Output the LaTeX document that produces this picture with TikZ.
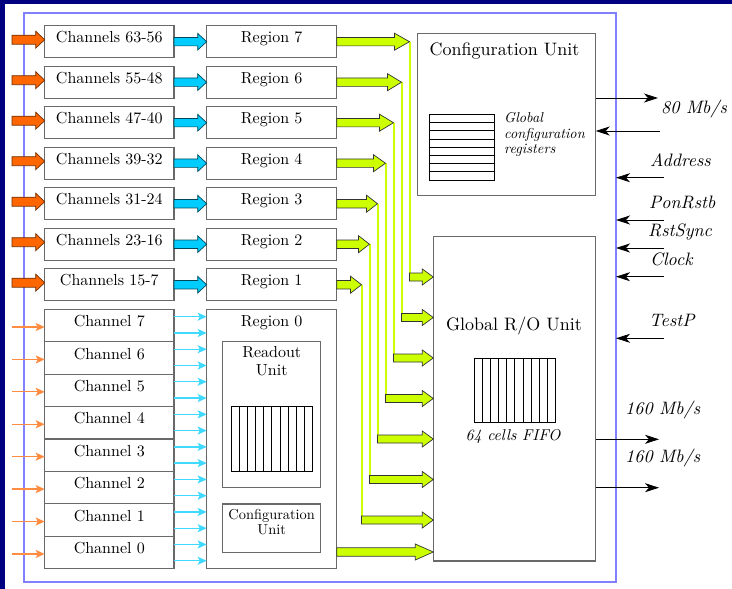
\documentclass[tikz,border=0pt]{standalone}
\usepackage{fontspec}
\setmainfont{lmroman10}[Extension=.otf, UprightFont=*-regular, ItalicFont=*-italic, BoldFont=*-bold, BoldItalicFont=*-bolditalic]
\usetikzlibrary{arrows.meta,calc}
\definecolor{navy}{RGB}{0,0,128}
\definecolor{frameblue}{RGB}{128,128,255}
\definecolor{gr}{RGB}{204,255,0}
\definecolor{orng}{RGB}{255,102,0}
\definecolor{cyn}{RGB}{0,204,255}
\definecolor{boxgray}{RGB}{105,105,105}
\newcommand\barrow[6]{%
  \draw[#1] let \p1=(#2), \p2=(#3) in
    (\x1,\y2+#4) -- (\x2-#6,\y2+#4) -- (\x2-#6,\y2+#5) -- (\x2,\y2) --
    (\x2-#6,\y2-#5) -- (\x2-#6,\y2-#4) -- (\x1,\y2-#4) -- cycle;}
\tikzset{
  box/.style={draw=boxgray, line width=1.1bp, fill=white, inner sep=0, outer sep=0, anchor=north west},
  lbl/.style={font=\fontsize{16bp}{19bp}\selectfont, anchor=base, inner sep=0},
  small/.style={font=\fontsize{14.4bp}{17bp}\selectfont, anchor=base, inner sep=0},
  big/.style={font=\fontsize{18bp}{22bp}\selectfont, anchor=base, inner sep=0},
  side/.style={font=\fontsize{18bp}{22bp}\selectfont\itshape, anchor=base west, inner sep=0},
  gcr/.style={font=\fontsize{14.3bp}{17bp}\selectfont\itshape, anchor=base west, inner sep=0},
  oblk/.style={fill=orng, draw=orng!45!black, line width=0.7bp},
  cblk/.style={fill=cyn, draw=cyn!35!black, line width=0.7bp},
  gblk/.style={fill=gr, draw=black!80, line width=0.7bp},
  gline/.style={draw=gr, line width=2bp},
  othin/.style={draw=orng!75, line width=1.3bp, -{Stealth[length=9bp,width=8bp,inset=2bp]}},
  cthin/.style={draw=cyn!75, line width=1.3bp, -{Stealth[length=9bp,width=8bp,inset=2bp]}},
  barr/.style={draw=black, line width=0.8bp, -{Stealth[length=14bp,width=9bp,inset=4bp]}},
  grid/.style={draw=black, line width=0.8bp, fill=white, inner sep=0, outer sep=0, anchor=north west},
}
\begin{document}
\begin{tikzpicture}[x=1bp,y=-1bp]
\useasboundingbox (0,0) rectangle (732,589);
\fill[white] (0,0) rectangle (732,589);
\fill[navy] (0,0) rectangle (732,4);
\fill[navy] (0,0) rectangle (5,589);

\node[draw=frameblue, line width=2bp, inner sep=0, outer sep=0, anchor=north west,
      minimum width=592bp, minimum height=569bp] (frame) at (24,13) {};

\coordinate (oL) at (12,0);

% main units on the right
\node[box, minimum width=178.4bp, minimum height=162.4bp] (cu) at (417.3,33.3) {};
\node[big] (cut) at (504.5,55.7) {Configuration Unit};
\node[grid, minimum width=65bp, minimum height=65.7bp] (reg) at (429.3,114.3) {};
\foreach \k in {1,...,7} \draw[line width=0.8bp] (reg.north west) ++(0,8.21*\k) -- ++(65,0);
\node[gcr] (g1) at (504,122.3) {Global};
\node[gcr] (g2) at (504,138.5) {configuration};
\node[gcr] (g3) at (504,153.5) {registers};

\node[box, minimum width=162.4bp, minimum height=324.3bp] (gro) at (433.3,236.7) {};
\node[big] (grot) at (514,330.7) {Global R/O Unit};
\node[grid, minimum width=81.7bp, minimum height=64.4bp] (fifo) at (474,358.3) {};
\foreach \k in {1,...,9} \draw[line width=0.8bp] (fifo.north west) ++(8.17*\k,0) -- ++(0,64.4);
\node[font=\fontsize{15.7bp}{19bp}\selectfont\itshape, anchor=base, inner sep=0] (fifot) at (513,440.7) {64 cells FIFO};

% upper channel groups and regions
\foreach \lab/\reg/\tx/\hl [count=\i from 0] in
  {63-56/7/409.5/15, 55-48/6/401.5/14, 47-40/5/393.5/14, 39-32/4/385.5/12,
   31-24/3/377.5/11, 23-16/2/369.5/11, 15-7/1/361.5/11}{
  \pgfmathsetmacro\rtop{25.7+40.5*\i}
  \pgfmathsetmacro\rmid{\rtop+16}
  \pgfmathsetmacro\rdy{277+40.5*\i}
  \node[box, minimum width=129.3bp, minimum height=32bp] (c\reg) at (44.7,\rtop) {};
  \node[lbl] (ct\reg) at ([yshift=-17bp]c\reg.north) {Channels \lab};
  \node[box, minimum width=130bp, minimum height=32bp] (r\reg) at (206.7,\rtop) {};
  \node[lbl] (rt\reg) at ([yshift=-17bp]r\reg.north) {Region \reg};
  \coordinate (t\reg) at (\tx,\rmid);
  \coordinate (d\reg) at (\tx,\rdy);
  \barrow{oblk}{oL}{[yshift=2bp]c\reg.west}{4.5bp}{8.5bp}{9bp}
  \barrow{cblk}{c\reg.east}{r\reg.west}{4.2bp}{8.3bp}{9bp}
  \draw[gline] (t\reg) -- ([yshift=-3bp]d\reg);
  \barrow{gblk}{r\reg.east}{t\reg}{4.2bp}{8.5bp}{\hl bp}
  \barrow{gblk}{d\reg}{d\reg -| gro.west}{4bp}{8bp}{11bp}
}

% region 0
\node[box, minimum width=130bp, minimum height=259.4bp] (r0) at (206.7,309.3) {};
\node[lbl] (rt0) at ([yshift=-16.7bp]r0.north) {Region 0};
\node[box, minimum width=98bp, minimum height=146bp] (ru) at (222.7,341.7) {};
\node[lbl] (rut1) at ([yshift=-15.6bp]ru.north) {Readout};
\node[lbl] (rut2) at ([yshift=-33.3bp]ru.north) {Unit};
\node[grid, minimum width=81.7bp, minimum height=65bp] (rfifo) at (231,406.7) {};
\foreach \k in {1,...,9} \draw[line width=0.8bp] (rfifo.north west) ++(8.17*\k,0) -- ++(0,65);
\node[box, minimum width=98bp, minimum height=48.7bp] (cs) at (222.7,504) {};
\node[small] (cst1) at ([yshift=-15bp]cs.north) {Configuration};
\node[small] (cst2) at ([yshift=-30.3bp]cs.north) {Unit};

% lower single channels
\foreach \n [count=\i from 0] in {7,6,5,4,3,2,1,0}{
  \pgfmathsetmacro\btop{309.3+32.42*\i}
  \pgfmathsetmacro\oy{\btop+17.7}
  \node[box, minimum width=129.3bp, minimum height=32.42bp] (b\n) at (44.7,\btop) {};
  \node[lbl] (bt\n) at ([yshift=-17.4bp]b\n.north) {Channel \n};
  \coordinate (oy\n) at (0,\oy);
  \draw[othin] (oL |- oy\n) -- (b\n.west |- oy\n);
}
\foreach \k in {0,...,15}{
  \pgfmathsetmacro\cyv{316.7+16.27*\k}
  \coordinate (cy\k) at (0,\cyv);
  \draw[cthin] (b7.east |- cy\k) -- (r0.west |- cy\k);
}
\coordinate (g0) at (0,552);
\barrow{gblk}{r0.east |- g0}{gro.west |- g0}{4.2bp}{8bp}{18bp}

% right side signals
\coordinate (o80) at (658,98);
\coordinate (i80) at (660,131);
\coordinate (iA) at (664,177.7);
\coordinate (iP) at (664,220);
\coordinate (iR) at (664,248);
\coordinate (iC) at (664,276.7);
\coordinate (iT) at (664,338.3);
\coordinate (o1) at (659,439.3);
\coordinate (o2) at (659,487.7);
\draw[barr] (cu.east |- o80) -- (o80);
\draw[barr] (i80) -- (cu.east |- i80);
\draw[barr] (iA) -- (frame.east |- iA);
\draw[barr] (iP) -- (frame.east |- iP);
\draw[barr] (iR) -- (frame.east |- iR);
\draw[barr] (iC) -- (frame.east |- iC);
\draw[barr] (iT) -- (frame.east |- iT);
\draw[barr] (gro.east |- o1) -- (o1);
\draw[barr] (gro.east |- o2) -- (o2);

\node[side] (l80) at (661,113.3) {80 Mb/s};
\node[side] (lA) at (650,166.7) {Address};
\node[side] (lP) at (649,208.3) {PonRstb};
\node[side] (lR) at (648,236.7) {RstSync};
\node[side] (lC) at (650,265) {Clock};
\node[side] (lT) at (649,326) {TestP};
\node[side] (l160a) at (625,414.3) {160 Mb/s};
\node[side] (l160b) at (625,462.7) {160 Mb/s};
\end{tikzpicture}
\end{document}
